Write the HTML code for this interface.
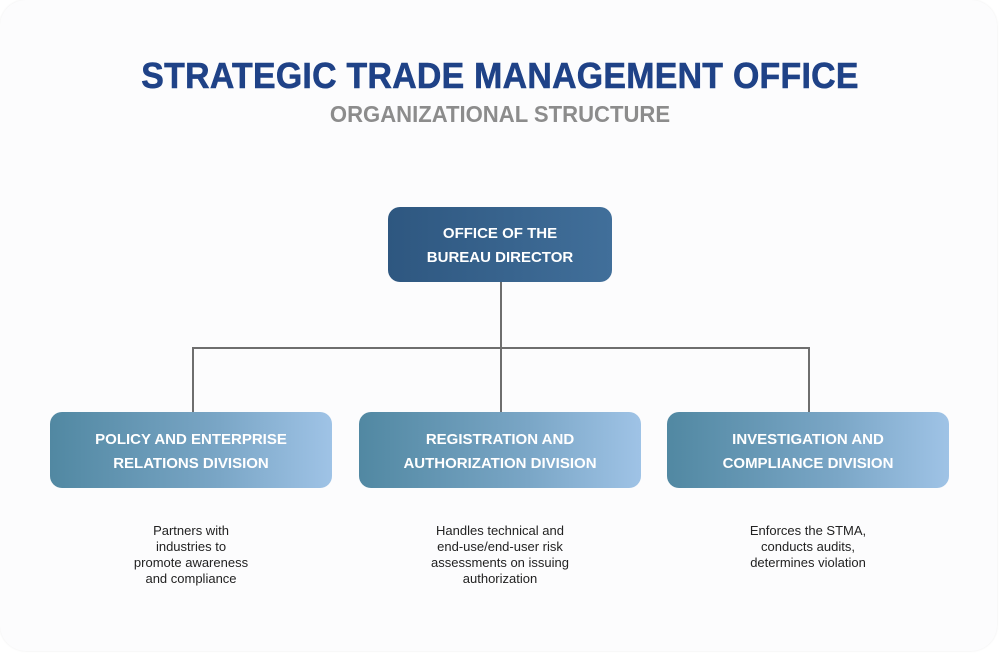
<!DOCTYPE html>
<html><head><meta charset="utf-8"><style>
html,body{margin:0;padding:0;width:1000px;height:654px;background:#fff;overflow:hidden}
.card{position:absolute;left:0;top:0;width:997px;height:651px;border-radius:26px;background:#fcfcfd;box-shadow:0 0 2px rgba(0,0,0,0.08)}
.t{position:absolute;left:0;width:1000px;text-align:center;font-family:"Liberation Sans",sans-serif;font-weight:bold}
.title{top:55px;font-size:36px;color:#1f4287;transform:scaleX(0.94);letter-spacing:0.3px;-webkit-text-stroke:0.6px #1f4287}
.sub{top:101px;font-size:23px;color:#8c8c8c;transform:scaleX(0.96)}
.box{position:absolute;border-radius:12px;color:#fff;font-family:"Liberation Sans",sans-serif;font-weight:bold;font-size:15px;line-height:24px;text-align:center;display:flex;align-items:center;justify-content:center;padding-top:3px;box-sizing:border-box}
.top{left:388px;top:207px;width:224px;height:75px;background:linear-gradient(90deg,#2e5780,#416f9a)}
.div{top:412px;width:282px;height:76px;background:linear-gradient(90deg,#5188a2,#7aa6c6 60%,#9fc3e6)}
.ln{position:absolute;background:#6e6e6e}
.d{position:absolute;top:523px;width:282px;text-align:center;font-family:"Liberation Sans",sans-serif;font-size:13px;line-height:16px;color:#222}
</style></head><body>
<div class="card"></div>
<div class="t title">STRATEGIC TRADE MANAGEMENT OFFICE</div>
<div class="t sub">ORGANIZATIONAL STRUCTURE</div>
<div class="ln" style="left:500px;top:282px;width:2px;height:130px"></div>
<div class="ln" style="left:192px;top:347px;width:618px;height:2px"></div>
<div class="ln" style="left:192px;top:347px;width:2px;height:65px"></div>
<div class="ln" style="left:808px;top:347px;width:2px;height:65px"></div>
<div class="box top">OFFICE OF THE<br>BUREAU DIRECTOR</div>
<div class="box div" style="left:50px">POLICY AND ENTERPRISE<br>RELATIONS DIVISION</div>
<div class="box div" style="left:359px">REGISTRATION AND<br>AUTHORIZATION DIVISION</div>
<div class="box div" style="left:667px">INVESTIGATION AND<br>COMPLIANCE DIVISION</div>
<div class="d" style="left:50px">Partners with<br>industries to<br>promote awareness<br>and compliance</div>
<div class="d" style="left:359px">Handles technical and<br>end-use/end-user risk<br>assessments on issuing<br>authorization</div>
<div class="d" style="left:667px">Enforces the STMA,<br>conducts audits,<br>determines violation</div>
</body></html>
